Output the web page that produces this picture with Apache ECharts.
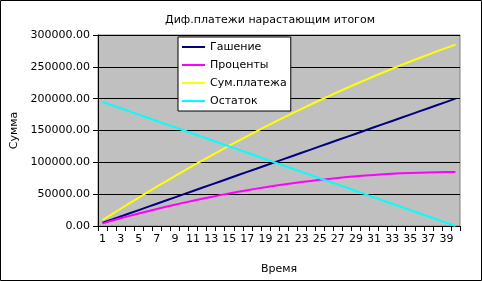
<!DOCTYPE html>
<html>
<head>
<meta charset="utf-8">
<script src="https://cdn.jsdelivr.net/npm/echarts@6/dist/echarts.min.js"></script>
<style>
  html, body { margin: 0; padding: 0; background: #fff; }
  #chart { width: 482px; height: 281px; }
</style>
</head>
<body>
<div id="chart"></div>
<script>
// periods 1..40
var periods = ['1','2','3','4','5','6','7','8','9','10','11','12','13','14','15','16','17','18','19','20',
    '21','22','23','24','25','26','27','28','29','30','31','32','33','34','35','36','37','38','39','40'];

// Гашение (cumulative principal)
var repaid = [5000, 10000, 15000, 20000, 25000, 30000, 35000, 40000, 45000, 50000,
    55000, 60000, 65000, 70000, 75000, 80000, 85000, 90000, 95000, 100000,
    105000, 110000, 115000, 120000, 125000, 130000, 135000, 140000, 145000, 150000,
    155000, 160000, 165000, 170000, 175000, 180000, 185000, 190000, 195000, 200000];

// Проценты (cumulative interest)
var interest = [4100, 8200, 12100, 15900, 19700, 23300, 26800, 30200, 33500, 36700,
    39800, 42800, 45700, 48500, 51200, 53800, 56300, 58700, 61000, 63100,
    65200, 67200, 69000, 70800, 72500, 74000, 75500, 76800, 78000, 79200,
    80200, 81100, 82000, 82700, 83300, 83800, 84200, 84600, 84800, 84900];

// Сум.платежа (cumulative payment)
var totalPaid = [9100, 18200, 27100, 35900, 44700, 53300, 61800, 70200, 78500, 86700,
    94800, 102800, 110700, 118500, 126200, 133800, 141300, 148700, 156000, 163100,
    170200, 177200, 184000, 190800, 197500, 204000, 210500, 216800, 223000, 229200,
    235200, 241100, 247000, 252700, 258300, 263800, 269200, 274600, 279800, 284900];

// Остаток (remaining balance)
var balance = [195000, 190000, 185000, 180000, 175000, 170000, 165000, 160000, 155000, 150000,
    145000, 140000, 135000, 130000, 125000, 120000, 115000, 110000, 105000, 100000,
    95000, 90000, 85000, 80000, 75000, 70000, 65000, 60000, 55000, 50000,
    45000, 40000, 35000, 30000, 25000, 20000, 15000, 10000, 5000, 0];

var titleText = 'Диф.платежи нарастающим итогом';
var font = "'DejaVu Sans', sans-serif";

function lineSeries(name, data, color) {
    return {
        name: name,
        type: 'line',
        data: data,
        symbol: 'none',
        lineStyle: {color: color, width: 2},
        itemStyle: {color: color},
        animation: false
    };
}

var option = {
    animation: false,
    textStyle: {fontFamily: font},
    graphic: [{
        type: 'rect',
        shape: {x: 0.5, y: 0.5, width: 481, height: 280},
        style: {fill: null, stroke: '#000', lineWidth: 1},
        silent: true
    }, {
        type: 'text',
        x: 270,
        y: 20,
        style: {text: titleText, font: "11px 'DejaVu Sans', sans-serif", fill: '#000',
            textAlign: 'center', textVerticalAlign: 'middle'},
        silent: true
    }],
    legend: {
        orient: 'vertical',
        left: 178,
        top: 37,
        padding: [3, 4, 3, 4],
        backgroundColor: '#fff',
        borderColor: '#000',
        borderWidth: 1,
        borderRadius: 0,
        icon: 'rect',
        itemWidth: 23,
        itemHeight: 2,
        itemGap: 4,
        textStyle: {fontFamily: font, fontSize: 11, color: '#000', lineHeight: 14},
        data: ['Гашение', 'Проценты', 'Сум.платежа', 'Остаток']
    },
    grid: {left: 98, right: 22, top: 35, bottom: 55, outerBoundsMode: 'none', containLabel: false,
        show: true, backgroundColor: '#c0c0c0', borderColor: '#808080', borderWidth: 1},
    xAxis: {
        type: 'category',
        data: periods,
        boundaryGap: true,
        name: 'Время',
        nameLocation: 'middle',
        nameGap: 38,
        nameTextStyle: {fontFamily: font, fontSize: 11, color: '#000'},
        axisLine: {lineStyle: {color: '#000', width: 1}},
        axisTick: {show: true, interval: 0, length: 5, lineStyle: {color: '#000'}},
        axisLabel: {interval: 1, fontFamily: font, fontSize: 11, color: '#000', margin: 8}
    },
    yAxis: {
        type: 'value',
        min: 0,
        max: 300000,
        interval: 50000,
        name: 'Сумма',
        nameLocation: 'middle',
        nameGap: 76,
        nameTextStyle: {fontFamily: font, fontSize: 11, color: '#000'},
        axisLine: {show: true, lineStyle: {color: '#000', width: 1}},
        axisTick: {show: true, length: 5, lineStyle: {color: '#000'}},
        axisLabel: {fontFamily: font, fontSize: 11, color: '#000', margin: 8,
            formatter: function (v) { return v.toFixed(2); }},
        splitLine: {show: true, lineStyle: {color: '#000', width: 1}}
    },
    series: [
        lineSeries('Гашение', repaid, '#000080'),
        lineSeries('Проценты', interest, '#ff00ff'),
        lineSeries('Сум.платежа', totalPaid, '#ffff00'),
        lineSeries('Остаток', balance, '#00ffff')
    ]
};

var myChart = echarts.init(document.getElementById('chart'));
myChart.setOption(option, true);
</script>
</body>
</html>
